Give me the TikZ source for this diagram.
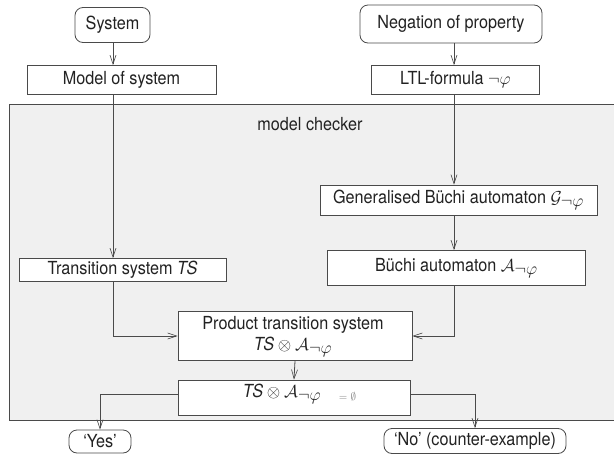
\documentclass[tikz,border=0pt]{standalone}
\usepackage{fontspec}
\setmainfont{TeX Gyre Heros}[FakeStretch=0.9]
\usetikzlibrary{arrows.meta}
\definecolor{linegray}{HTML}{4A4A4A}
\definecolor{panelgray}{HTML}{F0F0F0}
\definecolor{inkgray}{HTML}{222222}
\newcommand\mth[1]{{\fontsize{16.5}{18}\selectfont$#1$}}
\newcommand\negsub[1]{#1_{\textstyle\neg\varphi}}
\tikzset{
  txt/.style={text=inkgray, inner sep=0pt, font=\fontsize{18}{21}\selectfont},
  base/.style={txt, draw=linegray, line width=0.8pt, fill=white, align=center},
  sqbox/.style={base},
  rbox/.style={base, rounded corners=8pt},
  arr/.style={draw=linegray, line width=0.8pt,
    -{Straight Barb[length=9pt,width=6pt,line width=0.6pt]}},
}
\begin{document}
\begin{tikzpicture}[x=1pt,y=-1pt]
\useasboundingbox (0,0) rectangle (614,461);
% model checker panel (open to the right)
\draw[draw=linegray, line width=0.9pt, fill=panelgray] (9,104) rectangle (622,420);
\node[txt] (mc) at (310,124) {model checker};
% column guides
\coordinate (lc) at (113,0);
\coordinate (rc) at (454,0);
% inputs
\node[rbox, minimum width=75pt, minimum height=35pt] (system) at (112.5,25) {System};
\node[rbox, minimum width=182pt, minimum height=38pt] (negation) at (451,24) {Negation of property};
\node[sqbox, minimum width=189pt, minimum height=29pt] (model) at (121.5,80) {Model of system};
\node[sqbox, minimum width=168pt, minimum height=29pt] (ltl) at (455.5,80) {LTL-formula \mth{\neg\varphi}};
% inside the checker
\node[sqbox, minimum width=277pt, minimum height=30pt] (gba) at (458.5,200) {Generalised Büchi automaton \mth{\negsub{\mathcal{G}}}};
\node[sqbox, minimum width=258pt, minimum height=35pt] (ba) at (456.5,268) {Büchi automaton \mth{\negsub{\mathcal{A}}}};
\node[sqbox, minimum width=207pt, minimum height=23pt] (ts) at (122.5,270) {Transition system \textit{TS}};
\node[sqbox, minimum width=234pt, minimum height=49pt] (product) at (295,336) {};
\node[txt] (prod1) at (293,325) {Product transition system};
\node[txt] (prod2) at (293,347) {\textit{TS}\mth{{}\otimes{}\negsub{\mathcal{A}}}};
\node[sqbox, minimum width=232pt, minimum height=35pt] (check) at (294,397.5) {};
\node[txt] (checktxt) at (282,394) {\textit{TS}\mth{{}\otimes{}\negsub{\mathcal{A}}}};
\node[text=gray, inner sep=0pt, font=\fontsize{11}{13}\selectfont] (empty) at (347.5,397) {$=\emptyset$};
% outcomes
\node[rbox, minimum width=62pt, minimum height=23pt] (yes) at (100,441.5) {‘Yes’};
\node[rbox, minimum width=182pt, minimum height=25pt] (no) at (475,441) {‘No’ (counter-example)};
% connectors
\draw[arr] (system.south -| lc) -- (model.north -| lc);
\draw[arr] (negation.south -| rc) -- (ltl.north -| rc);
\draw[arr] (model.south -| lc) -- (ts.north -| lc);
\draw[arr] (ltl.south -| rc) -- (gba.north -| rc);
\draw[arr] (gba.south -| rc) -- (ba.north -| rc);
\draw[arr] (ts.south -| lc) |- (product.west);
\draw[arr] (ba.south -| rc) |- (product.east);
\draw[arr] (product.south) -- (check.north);
\draw[arr] ([yshift=3.5pt]check.west) -| (yes.north);
\draw[arr] ([yshift=3.5pt]check.east) -| (no.north);
\end{tikzpicture}
\end{document}
